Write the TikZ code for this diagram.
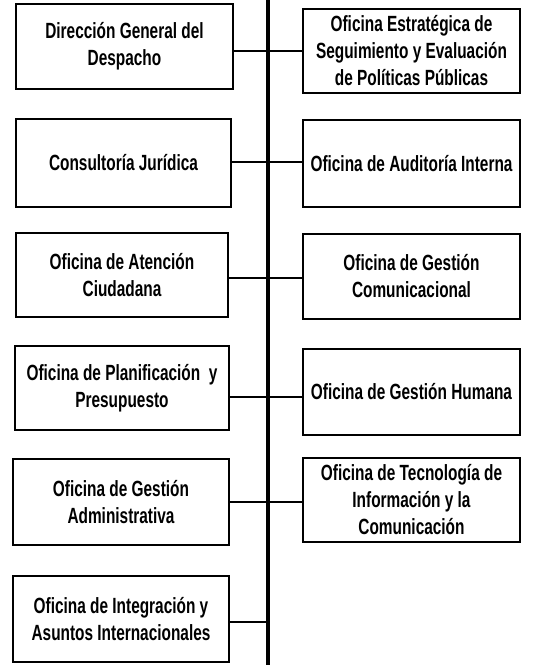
\documentclass[tikz,border=0pt]{standalone}
\usepackage{fontspec}
\setmainfont{Liberation Sans}[FakeStretch=0.70]
\begin{document}
\begin{tikzpicture}[x=1pt,y=1pt,
  orgbox/.style={draw=black, line width=2pt, rectangle, inner sep=0pt, align=center,
    font=\fontsize{22}{27}\selectfont\bfseries},
  trunkline/.style={line width=3.5pt},
  link/.style={line width=2.2pt}]
\useasboundingbox (0,0) rectangle (540,-665);
% left column
\node[orgbox, minimum width=217, minimum height=85] (L1) at (124.5,-46.5) {Dirección General del\\Despacho};
\node[orgbox, minimum width=215, minimum height=88] (L2) at (123.5,-163) {Consultoría Jurídica};
\node[orgbox, minimum width=212, minimum height=84] (L3) at (122,-275) {Oficina de Atención\\Ciudadana};
\node[orgbox, minimum width=214, minimum height=84] (L4) at (122,-388) {Oficina de Planificación\ \ y\\Presupuesto};
\node[orgbox, minimum width=216, minimum height=86] (L5) at (121,-502) {Oficina de Gestión\\Administrativa};
\node[orgbox, minimum width=216, minimum height=86] (L6) at (121,-619) {Oficina de Integración y\\Asuntos Internacionales};
% right column
\node[orgbox, minimum width=217, minimum height=84] (R1) at (411.5,-51) {Oficina Estratégica de\\Seguimiento y Evaluación\\de Políticas Públicas};
\node[orgbox, minimum width=217, minimum height=87] (R2) at (411.5,-163.5) {Oficina de Auditoría Interna};
\node[orgbox, minimum width=217, minimum height=85] (R3) at (411.5,-276.5) {Oficina de Gestión\\Comunicacional};
\node[orgbox, minimum width=217, minimum height=86] (R4) at (411.5,-392) {Oficina de Gestión Humana};
\node[orgbox, minimum width=217, minimum height=84] (R5) at (411.5,-500) {Oficina de Tecnología de\\Información y la\\Comunicación};
% trunk
\coordinate (top) at (268,0);
\coordinate (bottom) at (268,-665);
\draw[trunkline] (top) -- (bottom);
% connection points on the trunk
\coordinate (c1) at (268,-51);
\coordinate (c2) at (268,-162);
\coordinate (c3) at (268,-278);
\coordinate (c4) at (268,-397);
\coordinate (c5) at (268,-502);
\coordinate (c6) at (268,-622);
\draw[link] (L1.east |- c1) -- (R1.west |- c1);
\draw[link] (L2.east |- c2) -- (R2.west |- c2);
\draw[link] (L3.east |- c3) -- (R3.west |- c3);
\draw[link] (L4.east |- c4) -- (R4.west |- c4);
\draw[link] (L5.east |- c5) -- (R5.west |- c5);
\draw[link] (L6.east |- c6) -- (c6);
\end{tikzpicture}
\end{document}
